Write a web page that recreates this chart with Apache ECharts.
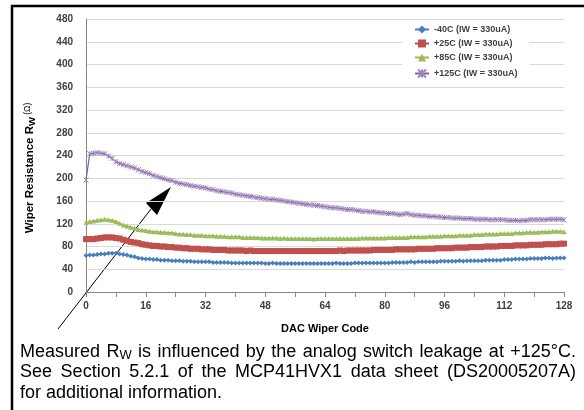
<!DOCTYPE html>
<html>
<head>
<meta charset="utf-8">
<script src="https://cdn.jsdelivr.net/npm/echarts@6/dist/echarts.min.js"></script>
<style>
  html, body { margin: 0; padding: 0; background: #fff; }
  #chart { width: 584px; height: 410px; }
</style>
</head>
<body>
<div id="chart"></div>
<script>
// (1)准备数据
var seriesNames = ["-40C (IW = 330uA)", "+25C (IW = 330uA)", "+85C (IW = 330uA)", "+125C (IW = 330uA)"];
var codes = [];
for (var c = 0; c <= 128; c++) codes.push(c);
var rwM40 = [
  64, 65, 65, 66, 67, 67, 68, 68, 68, 67, 66, 65, 63, 62, 60, 59,
  58, 58, 57, 57, 56, 56, 56, 55, 55, 55, 54, 54, 54, 53, 53, 53,
  53, 53, 52, 52, 52, 52, 52, 51, 51, 51, 51, 51, 51, 51, 51, 51,
  50, 50, 51, 50, 50, 50, 50, 50, 50, 50, 50, 50, 50, 50, 50, 50,
  50, 50, 50, 51, 50, 50, 50, 50, 51, 51, 51, 51, 51, 51, 51, 51,
  51, 51, 52, 52, 52, 52, 52, 53, 52, 53, 53, 53, 53, 53, 53, 54,
  54, 54, 54, 54, 55, 54, 55, 55, 55, 55, 55, 56, 56, 56, 56, 56,
  57, 57, 57, 58, 58, 58, 58, 59, 59, 59, 59, 60, 60, 59, 60, 60,
  60
];
var rwP25 = [
  93, 93, 93, 94, 95, 96, 96, 96, 95, 94, 92, 90, 88, 87, 86, 84,
  83, 82, 81, 81, 80, 80, 79, 79, 78, 78, 77, 77, 76, 76, 76, 75,
  75, 75, 74, 74, 74, 74, 73, 73, 73, 73, 73, 72, 73, 72, 72, 72,
  72, 72, 72, 72, 72, 72, 72, 72, 72, 72, 72, 72, 72, 72, 72, 72,
  72, 72, 72, 72, 73, 72, 73, 73, 73, 73, 73, 73, 73, 74, 74, 74,
  74, 74, 74, 75, 75, 75, 75, 75, 75, 76, 76, 76, 76, 76, 77, 77,
  77, 77, 77, 78, 78, 78, 78, 79, 79, 79, 79, 80, 80, 80, 80, 81,
  81, 81, 81, 82, 82, 82, 82, 83, 83, 83, 83, 84, 84, 84, 84, 85,
  85
];
var rwP85 = [
  122, 124, 125, 126, 127, 128, 127, 126, 124, 121, 118, 116, 114, 112, 110, 109,
  108, 107, 106, 106, 105, 105, 104, 104, 103, 102, 102, 101, 101, 100, 100, 100,
  99, 99, 99, 98, 98, 98, 97, 97, 97, 97, 96, 96, 96, 96, 96, 95,
  95, 95, 95, 95, 94, 95, 94, 94, 94, 94, 94, 94, 94, 93, 94, 94,
  94, 94, 94, 94, 94, 94, 94, 94, 94, 94, 95, 95, 95, 95, 95, 95,
  95, 96, 96, 96, 96, 96, 96, 97, 97, 97, 97, 97, 98, 98, 98, 98,
  99, 99, 99, 99, 100, 100, 100, 100, 101, 101, 101, 102, 102, 102, 102, 103,
  103, 103, 103, 104, 104, 104, 105, 105, 105, 105, 106, 106, 106, 107, 107, 107,
  106
];
var rwP125 = [
  197, 243, 244, 245, 244, 243, 239, 235, 229, 226, 224, 222, 220, 218, 215, 212,
  210, 208, 205, 203, 201, 199, 197, 196, 193, 191, 190, 189, 187, 186, 185, 184,
  183, 181, 180, 178, 177, 176, 175, 174, 172, 171, 170, 169, 168, 167, 166, 165,
  164, 163, 163, 162, 161, 160, 159, 158, 157, 156, 155, 154, 153, 153, 152, 151,
  150, 149, 148, 148, 147, 146, 145, 145, 144, 143, 142, 142, 141, 141, 140, 139,
  139, 138, 138, 137, 136, 137, 138, 136, 135, 135, 134, 134, 133, 133, 132, 132,
  131, 131, 130, 130, 130, 129, 129, 129, 128, 128, 128, 128, 127, 127, 127, 127,
  127, 126, 126, 126, 125, 126, 126, 127, 127, 127, 127, 127, 128, 128, 128, 128,
  127
];

// 组合成 [x, y]
function pairs(vals) {
  return codes.map(function (x, i) { return [x, vals[i]]; });
}

var font = "'Liberation Sans', Arial, sans-serif";
var crossPath = "path://M0,0L10,10M10,0L0,10M5,0L5,10";

// 说明文字：前两行两端对齐
var capSize = 18, subSize = 13;
var measureCtx = document.createElement("canvas").getContext("2d");
function textWidth(s, size) {
  measureCtx.font = size + "px " + font;
  return measureCtx.measureText(s).width;
}
function justifyLine(words, y, x0, x1) {
  var widths = words.map(function (w) {
    return w === "R_W" ? textWidth("R", capSize) + textWidth("W", subSize) : textWidth(w, capSize);
  });
  var total = widths.reduce(function (a, b) { return a + b; }, 0);
  var gap = (x1 - x0 - total) / (words.length - 1);
  var x = x0, out = [];
  words.forEach(function (w, i) {
    out.push({
      type: "text", x: x, y: y,
      style: {
        text: w === "R_W" ? "{t|R}{s|W}" : "{t|" + w + "}",
        verticalAlign: "middle",
        rich: {
          t: { fontFamily: font, fontSize: capSize, fill: "#000" },
          s: { fontFamily: font, fontSize: subSize, fill: "#000", verticalAlign: "bottom", padding: [6, 0, 0, 0] }
        }
      }
    });
    x += widths[i] + gap;
  });
  return out;
}
var captionEls = []
  .concat(justifyLine(["Measured", "R_W", "is", "influenced", "by", "the", "analog", "switch", "leakage", "at", "+125°C."], 352, 20, 576))
  .concat(justifyLine(["See", "Section", "5.2.1", "of", "the", "MCP41HVX1", "data", "sheet", "(DS20005207A)"], 372.5, 20, 576))
  .concat([{
    type: "text", x: 20, y: 393,
    style: { text: "for additional information.", verticalAlign: "middle", fontFamily: font, fontSize: capSize, fill: "#000" }
  }]);

// 1. 实例化对象
var myChart = echarts.init(document.getElementById("chart"));
// 2. 指定配置和数据
var option = {
  animation: false,
  backgroundColor: "#fff",
  grid: { left: 86, right: 20, top: 19, bottom: 118 },
  legend: {
    orient: "vertical",
    left: 402,
    top: 22,
    padding: [3, 12, 3, 12],
    itemGap: 5,
    itemWidth: 14,
    itemHeight: 10,
    backgroundColor: "#fff",
    textStyle: { fontFamily: font, fontSize: 9, fontWeight: "bold", color: "#404040" },
    data: seriesNames
  },
  xAxis: {
    type: "value",
    min: 0,
    max: 128,
    interval: 8,
    name: "DAC Wiper Code",
    nameLocation: "middle",
    nameGap: 31,
    nameTextStyle: { fontFamily: font, fontSize: 11, fontWeight: "bold", color: "#000" },
    axisLine: { lineStyle: { color: "#868686", width: 1 } },
    axisTick: { show: true, length: 5, lineStyle: { color: "#868686" } },
    axisLabel: {
      margin: 9,
      fontFamily: font, fontSize: 10, fontWeight: "bold", color: "#404040",
      formatter: function (v) { return v % 16 === 0 ? v : ""; }
    },
    splitLine: { show: false }
  },
  yAxis: {
    type: "value",
    min: 0,
    max: 480,
    interval: 40,
    axisLine: { show: true, lineStyle: { color: "#868686", width: 1 } },
    axisTick: { show: false },
    axisLabel: { margin: 13, fontFamily: font, fontSize: 10, fontWeight: "bold", color: "#404040" },
    splitLine: { lineStyle: { color: "#d9d9d9", width: 1 } }
  },
  series: [
    {
      name: seriesNames[0], type: "line", data: pairs(rwM40),
      symbol: "diamond", symbolSize: 5,
      lineStyle: { color: "#4a7ebb", width: 1.5 },
      itemStyle: { color: "#4a7ebb" }
    },
    {
      name: seriesNames[1], type: "line", data: pairs(rwP25),
      symbol: "rect", symbolSize: 6,
      lineStyle: { color: "#be4b48", width: 1.5 },
      itemStyle: { color: "#c0504d" }
    },
    {
      name: seriesNames[2], type: "line", data: pairs(rwP85),
      symbol: "triangle", symbolSize: 5,
      lineStyle: { color: "#98b954", width: 1.5 },
      itemStyle: { color: "#9bbb59" }
    },
    {
      name: seriesNames[3], type: "line", data: pairs(rwP125),
      symbol: crossPath, symbolSize: 5,
      lineStyle: { color: "#7d60a0", width: 1.2 },
      itemStyle: { color: "none", borderColor: "#9c84bd", borderWidth: 1 }
    }
  ],
  graphic: [
    // 外框
    {
      type: "polyline",
      shape: { points: [[12, 412], [12, 6], [586, 6]] },
      style: { stroke: "#000", lineWidth: 2.5, fill: null }
    },
    // Y 轴名称
    {
      type: "text",
      x: 30, y: 168,
      rotation: Math.PI / 2,
      style: {
        text: "{b|Wiper Resistance R}{s|W}{o| (Ω)}",
        align: "center",
        verticalAlign: "middle",
        rich: {
          b: { fontFamily: font, fontSize: 11.5, fontWeight: "bold", fill: "#000" },
          s: { fontFamily: font, fontSize: 9.5, fontWeight: "bold", fill: "#000", verticalAlign: "bottom", padding: [4, 0, 0, 0] },
          o: { fontFamily: font, fontSize: 8.5, fill: "#000", verticalAlign: "top", padding: [0, 0, 3, 0] }
        }
      }
    },
    // 箭头
    {
      type: "line",
      shape: { x1: 58, y1: 329, x2: 151, y2: 209 },
      style: { stroke: "#000", lineWidth: 1 }
    },
    {
      type: "polygon",
      shape: { points: [[171, 187], [146, 203], [157, 215]] },
      style: { fill: "#000" }
    }
  ].concat(captionEls)
};
// 3. 把配置和数据给实例对象
myChart.setOption(option);
</script>
</body>
</html>
